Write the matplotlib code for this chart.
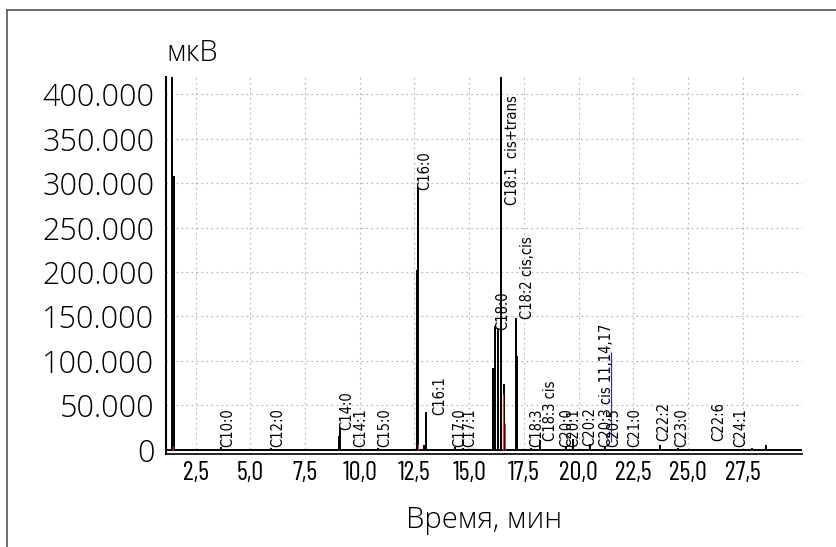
import numpy as np
import matplotlib
matplotlib.use("Agg")
from matplotlib import pyplot as plt
from matplotlib.lines import Line2D

# retention time (min) and height (uV) of the peaks
peak_t = [1.40, 1.50, 3.67, 5.96, 9.05, 9.08, 10.00, 10.83, 12.00, 12.60, 12.62, 12.66,
          12.95, 13.01, 13.50, 14.34, 14.72, 16.09, 16.20, 16.33, 16.46, 16.60,
          17.16, 17.20, 17.84, 18.22, 19.44, 19.74, 20.50, 21.19, 21.56, 22.34,
          23.70, 24.54, 25.76, 27.13, 27.94, 28.58]
peak_h = [900000, 308000, 2500, 2000, 15000, 25400, 800, 1500, 1200, 70000, 202000, 296000,
          5000, 42300, 1000, 3000, 2000, 91800, 139000, 137000, 900000, 74000,
          148000, 105000, 1500, 10400, 3000, 12300, 6700, 3000, 1000, 800,
          5600, 1500, 1000, 800, 2000, 5000]

# second (red) trace, small parts visible near the baseline
red_t = [1.45, 12.64, 16.55, 16.62]
red_h = [4000, 6000, 63000, 30000]

# peak labels: text, x (min), y of the text start (uV)
lab_txt = ["C10:0", "C12:0", "C14:0", "C14:1", "C15:0", "C16:0", "C16:1", "C17:0", "C17:1",
           "C18:0", "C18:1  cis+trans", "C18:2 cis,cis", "C18:3", "C18:3 cis", "C20:0",
           "C20:1", "C20:2", "C20:3 cis 11,14,17", "C20:5", "C21:0", "C22:2", "C23:0",
           "C22:6", "C24:1"]
lab_x = [3.97, 6.25, 9.40, 10.05, 11.14, 12.97, 13.65, 14.56, 15.02,
         16.52, 16.97, 17.67, 18.09, 18.70, 19.45,
         19.78, 20.52, 21.28, 21.60, 22.57, 23.89, 24.71,
         26.40, 27.40]
lab_y = [3000, 3000, 22000, 3000, 3000, 292000, 39000, 3000, 3000,
         135000, 275000, 147000, 3000, 10000, 3000,
         3000, 4000, 3000, 3000, 3000, 10000, 3000,
         10000, 3000]

x_ticks = [2.5, 5.0, 7.5, 10.0, 12.5, 15.0, 17.5, 20.0, 22.5, 25.0, 27.5]
y_ticks = [0, 50000, 100000, 150000, 200000, 250000, 300000, 350000, 400000]

cond_ticks = ["Barlow Condensed", "Archivo Narrow", "DejaVu Sans"]
plain = ["Open Sans", "DejaVu Sans"]

fig = plt.figure(figsize=(8.36, 5.47), dpi=100)
ax = fig.add_axes([0.198, 0.170, 0.761, 0.689])

ax.vlines(peak_t, 0, peak_h, color="black", lw=1.4)
ax.vlines(red_t, 0, red_h, color="#d04040", lw=0.8, zorder=3)
ax.vlines([21.48], 9000, 110000, color="#3030a0", lw=0.9, zorder=3)
ax.hlines([1200], 14.75, 15.3, color="#3030a0", lw=0.9)
ax.axhline(0, color="black", lw=1.4)

for t, x, y in zip(lab_txt, lab_x, lab_y):
    ax.text(x, y, t, rotation=90, ha="center", va="bottom", fontsize=10.5,
            family="DejaVu Sans", fontstretch="condensed")

ax.set_xlim(1.12, 30.2)
ax.set_ylim(-5000, 419500)
ax.set_xticks(x_ticks)
ax.set_yticks(y_ticks)
ax.set_xticklabels([f"{v:.1f}".replace(".", ",") for v in x_ticks])
ax.set_yticklabels(["0"] + [f"{int(v / 1000)}.000" for v in y_ticks[1:]])
ax.grid(True, color="#b0b0b0", ls=(0, (1.5, 3)), lw=0.8)
for s in ["top", "right"]:
    ax.spines[s].set_visible(False)
ax.spines["left"].set_linewidth(1.5)
ax.spines["bottom"].set_linewidth(1.2)
ax.tick_params(axis="y", length=0, pad=8, labelsize=22)
ax.tick_params(axis="x", length=0, pad=5, labelsize=19)
for lb in ax.get_yticklabels():
    lb.set_family(plain)
    lb.set_fontweight("light")
for lb in ax.get_xticklabels():
    lb.set_family(cond_ticks)

ax.set_xlabel("Время, мин", fontsize=21, family=plain, fontweight="light", labelpad=15)
fig.text(0.199, 0.902, "мкВ", fontsize=21, family=plain, fontweight="light",
         ha="left", va="center")

# frame lines of the original picture
fig.add_artist(Line2D([0.008, 0.008], [0.0, 0.981], color="#555555", lw=1.2))
fig.add_artist(Line2D([0.008, 1.0], [0.981, 0.981], color="#555555", lw=1.2))

fig.savefig("out.png", dpi=100)
